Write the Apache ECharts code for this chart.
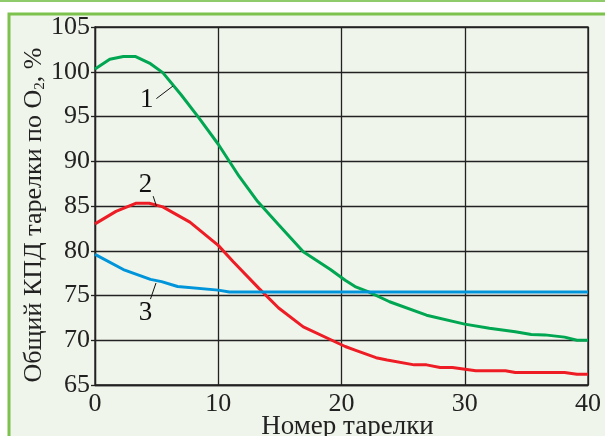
<!DOCTYPE html>
<html>
<head>
<meta charset="utf-8">
<script src="https://cdn.jsdelivr.net/npm/echarts@6/dist/echarts.min.js"></script>
<style>
  html, body { margin: 0; padding: 0; background: #fff; }
  #chart { width: 605px; height: 436px; }
</style>
</head>
<body>
<div id="chart"></div>
<script>
    // данные кривых (номер тарелки -> КПД, %)
    var xTicks = [0, 10, 20, 30, 40];
    var greenX = [0, 1.2, 2.3, 3.3, 4.5, 5.5, 7, 8.4, 10, 11.7, 13.2, 14.9, 16.9, 19.1, 20.3, 21.1, 22.2, 23.9, 26.9, 30, 32, 34.1, 35.4, 36.5, 38.1, 39.1, 40];
    var greenY = [100.3, 101.4, 101.7, 101.7, 100.9, 99.9, 97.4, 94.9, 91.9, 88.3, 85.5, 82.9, 79.9, 77.9, 76.7, 76.0, 75.4, 74.3, 72.8, 71.8, 71.35, 70.95, 70.65, 70.6, 70.35, 70.0, 70.0];
    var redX = [0, 1.7, 3.3, 4.4, 5.5, 7.7, 10, 11.2, 13.3, 14.9, 16.9, 20.3, 21.1, 22.8, 23.7, 25.9, 26.9, 28, 29, 30.9, 33.3, 34.1, 38.1, 39.1, 40];
    var redY = [83.0, 84.4, 85.3, 85.3, 84.9, 83.2, 80.6, 78.8, 75.8, 73.6, 71.5, 69.3, 68.9, 68.05, 67.8, 67.25, 67.25, 66.95, 66.95, 66.6, 66.6, 66.4, 66.4, 66.2, 66.2];
    var blueX = [0, 2.3, 4.5, 5.4, 6.7, 10, 10.9, 40];
    var blueY = [79.6, 77.9, 76.8, 76.55, 76.0, 75.6, 75.4, 75.4];
    // подписи кривых: текст, позиция текста, выноска
    var curveNames = ['1', '2', '3'];
    var namePos = [[4.2, 96.8], [4.1, 87.4], [4.1, 73.0]];
    var leaderFrom = [[4.98, 97.0], [4.72, 86.1], [4.5, 74.6]];
    var leaderTo = [[6.32, 98.4], [4.98, 85.0], [4.95, 76.4]];

    function pairs(xs, ys) {
        return xs.map(function (x, i) { return [x, ys[i]]; });
    }

    var font = '"Liberation Serif", "DejaVu Serif", serif';
    var myChart = echarts.init(document.getElementById('chart'));

    function lineSeries(data, color, idx) {
        return {
            type: 'line',
            data: data,
            symbol: 'none',
            smooth: false,
            lineStyle: { color: color, width: 3 },
            z: 3,
            markPoint: {
                symbol: 'circle',
                symbolSize: 0,
                silent: true,
                label: {
                    show: true,
                    color: '#111',
                    fontFamily: font,
                    fontSize: 27,
                    formatter: curveNames[idx]
                },
                data: [{ coord: namePos[idx] }]
            },
            markLine: {
                symbol: 'none',
                silent: true,
                label: { show: false },
                lineStyle: { color: '#111', width: 1, type: 'solid' },
                data: [[{ coord: leaderFrom[idx] }, { coord: leaderTo[idx] }]]
            }
        };
    }

    var option = {
        animation: false,
        graphic: [
            { type: 'rect', shape: { x: 0, y: 0, width: 605, height: 2 }, style: { fill: '#8fcb6b' } },
            { type: 'rect', shape: { x: 9, y: 14, width: 620, height: 440 },
              style: { fill: '#eff5ea', stroke: '#7cc24c', lineWidth: 3 }, z: -10 }
        ],
        grid: {
            left: 95, right: 17, top: 27, bottom: 51,
            outerBoundsMode: 'none',
            containLabel: false,
            show: true, borderColor: '#222', borderWidth: 1.3, backgroundColor: 'transparent'
        },
        xAxis: {
            type: 'value',
            min: xTicks[0], max: xTicks[xTicks.length - 1], interval: 10,
            name: 'Номер тарелки',
            nameLocation: 'middle',
            nameGap: 28,
            nameMoveOverlap: false,
            nameTextStyle: { fontFamily: font, fontSize: 27, color: '#222', padding: [0, 0, 0, 12] },
            axisLine: { show: true, lineStyle: { color: '#222', width: 1.3 } },
            axisTick: { show: false },
            axisLabel: { fontFamily: font, fontSize: 26, color: '#222', margin: 6 },
            splitLine: { show: true, lineStyle: { color: '#222', width: 1.3 } }
        },
        yAxis: {
            type: 'value',
            min: 65, max: 105, interval: 5,
            name: 'Общий КПД тарелки по O{sub|2}, %',
            nameLocation: 'middle',
            nameGap: 47,
            nameMoveOverlap: false,
            nameTextStyle: {
                fontFamily: font, fontSize: 26, color: '#222', padding: [0, 18, 0, 0],
                rich: { sub: { fontFamily: font, fontSize: 15, color: '#222', verticalAlign: 'bottom', padding: [12, 0, 0, 0] } }
            },
            axisLine: { show: true, lineStyle: { color: '#222', width: 1.3 } },
            axisTick: { show: true, length: 4, lineStyle: { color: '#222', width: 1.3 } },
            axisLabel: { fontFamily: font, fontSize: 26, color: '#222', margin: 5 },
            splitLine: { show: true, lineStyle: { color: '#222', width: 1.3 } }
        },
        series: [
            lineSeries(pairs(greenX, greenY), '#00a651', 0),
            lineSeries(pairs(redX, redY), '#ee1d25', 1),
            lineSeries(pairs(blueX, blueY), '#0095da', 2)
        ]
    };
    myChart.setOption(option);
</script>
</body>
</html>
